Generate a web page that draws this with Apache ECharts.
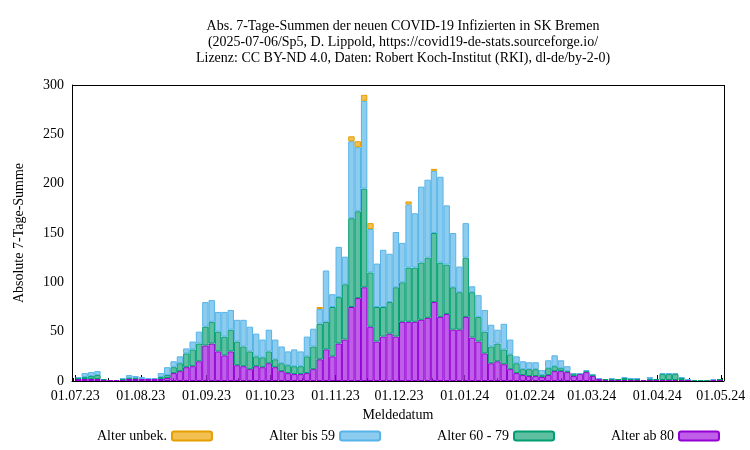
<!DOCTYPE html>
<html>
<head>
<meta charset="utf-8">
<script src="https://cdn.jsdelivr.net/npm/echarts@6/dist/echarts.min.js"></script>
</head>
<body style="margin:0">
<div id="chart" style="width:750px;height:450px"></div>
<script>
// 3-day bins starting 01.07.2023
let binStart = '2023-07-01'
let binDays = 3

let ab80 = [
    2,2,2,2,1,1,1,1,2,2, 2,2,2,2,3,8,10,14,15,20,
    36,38,30,26,30,16,15,12,15,14, 18,14,10,8,7,7,8,12,22,32,
    25,38,42,75,84,95,55,40,45,48, 45,60,60,60,62,64,80,65,68,52,
    52,65,44,40,28,18,20,17,12,8, 6,5,5,4,6,10,10,9,5,7,
    9,5,2,1,1,1,1,1,1,1, 1,1,1,1,1,1,1,0,0,0, 1,1
]
let alter6079 = [
    1,2,3,4,1,0,0,1,1,1, 0,0,0,2,3,6,8,14,17,18,
    19,22,20,19,22,24,20,18,10,10, 12,8,8,8,8,8,17,23,36,28,
    50,47,56,90,88,100,55,35,30,32, 50,40,55,55,58,61,70,55,50,43,
    38,60,46,25,22,17,18,15,15,10, 6,7,7,2,7,5,3,1,2,0,
    1,1,0,1,1,1,2,1,1,0, 1,1,6,6,6,2,0,1,1,1, 0,1
]
let bis59 = [
    1,4,4,4,0,0,0,1,3,2, 2,1,1,4,8,6,7,5,8,12,
    25,22,20,25,20,22,27,25,23,18, 22,20,17,14,17,15,20,18,15,52,
    13,51,28,78,65,89,44,44,58,49, 56,40,64,55,77,79,63,87,60,55,
    26,35,6,22,22,22,14,26,15,7, 8,7,7,5,8,11,8,5,1,1,
    1,1,1,0,1,0,1,1,1,0, 2,0,1,1,1,1,1,0,0,0, 1,0
]
let unbek = [
    0,0,0,0,0,0,0,0,0,0, 0,0,0,0,0,0,0,0,0,0,
    0,0,0,0,0,0,0,0,0,0, 0,0,0,0,0,0,0,0,2,0,
    0,0,0,5,6,6,6,0,0,0, 0,0,3,0,0,0,2,0,0,0,
    0,0,0,0,0,0,0,0,0,0, 0,0,0,0,0,0,0,0,0,0,
    0,0,0,0,0,0,0,0,0,0, 0,0,0,0,0,0,0,0,0,0, 0,0
]

let DAY = 86400000
let t0 = new Date(binStart + 'T00:00:00').getTime()

function toPoints(values) {
    return values.map(function(v, i) {
        // zero bins are left out so no empty outline is drawn
        return [t0 + (i * binDays + binDays / 2) * DAY, v === 0 ? '-' : v]
    })
}

function barSeries(name, values, fill, border) {
    return {
        name: name,
        type: 'bar',
        stack: 'all',
        barWidth: 6.4,
        data: toPoints(values),
        itemStyle: { color: fill, borderColor: border, borderWidth: 1, borderRadius: 0 }
    }
}

let font = 'Liberation Serif'
let chart = echarts.init(document.getElementById('chart'))

chart.setOption({
    animation: false,
    textStyle: { fontFamily: font },
    title: {
        text: 'Abs. 7-Tage-Summen der neuen COVID-19 Infizierten in SK Bremen\n(2025-07-06/Sp5, D. Lippold, https://covid19-de-stats.sourceforge.io/\nLizenz: CC BY-ND 4.0, Daten: Robert Koch-Institut (RKI), dl-de/by-2-0)',
        left: 398,
        textAlign: 'center',
        top: 13,
        textStyle: { fontFamily: font, fontSize: 14, fontWeight: 'normal', color: '#000', lineHeight: 16 }
    },
    legend: {
        bottom: 2,
        left: 92,
        align: 'right',
        itemGap: 56,
        itemWidth: 40,
        itemHeight: 9,
        textStyle: { fontFamily: font, fontSize: 14, color: '#000' },
        data: ['Alter unbek.', 'Alter bis 59', 'Alter 60 - 79', 'Alter ab 80']
    },
    grid: { left: 72, right: 26, top: 85, bottom: 69 },
    xAxis: {
        type: 'time',
        min: t0,
        max: new Date('2024-05-01T00:00:00').getTime(),
        splitNumber: 10,
        name: 'Meldedatum',
        nameLocation: 'middle',
        nameGap: 26,
        nameTextStyle: { fontFamily: font, fontSize: 14, color: '#000' },
        axisLine: { lineStyle: { color: '#000' } },
        axisTick: { inside: true, length: 6, lineStyle: { color: '#000' } },
        minorTick: { show: true, splitNumber: 2, length: 3, lineStyle: { color: '#000' } },
        splitLine: { show: false },
        axisLabel: {
            fontFamily: font, fontSize: 14, color: '#000', hideOverlap: false,
            formatter: function(v) { return echarts.time.format(v, '{dd}.{MM}.{yy}', false) }
        }
    },
    yAxis: {
        type: 'value',
        min: 0,
        max: 300,
        interval: 50,
        name: 'Absolute 7-Tage-Summe',
        nameLocation: 'middle',
        nameGap: 46,
        nameTextStyle: { fontFamily: font, fontSize: 14, color: '#000' },
        axisLine: { show: true, lineStyle: { color: '#000' } },
        axisTick: { inside: true, length: 6, lineStyle: { color: '#000' } },
        splitLine: { show: false },
        axisLabel: { fontFamily: font, fontSize: 14, color: '#000' }
    },
    series: [
        barSeries('Alter ab 80', ab80, 'rgba(170,40,225,0.75)', '#9400d3'),
        barSeries('Alter 60 - 79', alter6079, 'rgba(40,170,130,0.75)', '#009e73'),
        barSeries('Alter bis 59', bis59, 'rgba(120,195,235,0.85)', '#56b4e9'),
        barSeries('Alter unbek.', unbek, 'rgba(240,180,50,0.85)', '#e69f00'),
        {
            type: 'line', data: [], silent: true,
            markLine: {
                symbol: 'none', silent: true, label: { show: false },
                lineStyle: { color: '#000', type: 'solid', width: 1 },
                data: [[{ x: 72, y: 85 }, { x: 724, y: 85 }], [{ x: 724, y: 85 }, { x: 724, y: 381 }]]
            }
        }
    ]
})
</script>
</body>
</html>
